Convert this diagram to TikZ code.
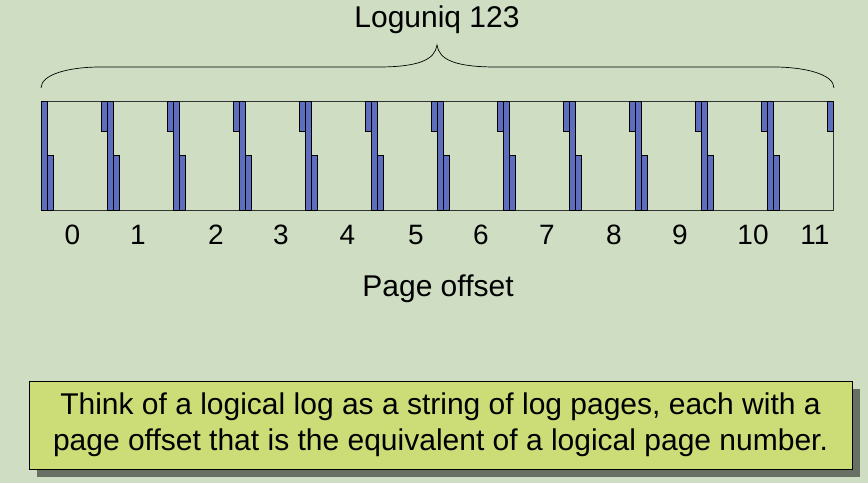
\documentclass[tikz,border=0pt]{standalone}
\usepackage{fontspec}
\setmainfont{Liberation Sans}
\usetikzlibrary{positioning,shadows}
\definecolor{slidebg}{RGB}{207,222,195}
\definecolor{barblue}{RGB}{94,110,190}
\definecolor{notefill}{RGB}{204,221,119}
\definecolor{noteshade}{RGB}{104,112,100}

\begin{document}
\begin{tikzpicture}[
  x=1pt,y=-1pt,
  bar/.style={draw=black,line width=0.7pt,fill=barblue},
  strip/.style={draw=black!80,line width=0.9pt},
  brace/.style={draw=black,line width=0.7pt},
  lbl/.style={font=\fontsize{28}{33}\selectfont,inner sep=0pt},
  title/.style={font=\fontsize{30}{36}\selectfont,inner sep=0pt},
  notebox/.style={draw=black,line width=0.8pt,fill=notefill,align=center,
    minimum width=823pt,minimum height=88pt,inner sep=0pt,
    font=\fontsize{30}{36}\selectfont,
    drop shadow={shadow xshift=8pt,shadow yshift=-8pt,fill=noteshade,opacity=1}}
]

% ---- slide background (fixes the margins) ----
\fill[slidebg] (0,0) rectangle (868,483);

% ---- brace over the log ----
\node[title,anchor=base] (loguniq) at (437,27.7) {Loguniq 123};
\draw[brace] (41,88) .. controls (41,74) and (70,67) .. (100,67) -- (378,67)
  .. controls (418,67) and (435,60) .. (437,45)
  .. controls (439,60) and (456,67) .. (496,67) -- (774,67)
  .. controls (804,67) and (834,74) .. (834,88);

% ---- the string of log pages ----
\draw[strip] (41,101) rectangle (833.4,210.5);
\foreach \k in {0,...,11}{
  \pgfmathsetmacro{\xa}{41+66.03*\k}
  \draw[bar] (\xa,101) rectangle ++(6,109.5);
  \draw[bar] (\xa+6,155.5) rectangle ++(6,55);
}
\foreach \k in {1,...,12}{
  \pgfmathsetmacro{\xa}{41+66.03*\k}
  \draw[bar] (\xa-6,101) rectangle ++(6,30);
}

% page offsets
\foreach \px [count=\i from 0] in {72.5,138,216,281,347.5,416,481,547,614,680,753,815}
  \node[lbl,anchor=base] (off\i) at (\px,244) {\i};
\node[title,anchor=base] (offlbl) at (438,296) {Page offset};

% ---- note ----
\node[notebox] (note) at (440.5,425) {Think of a logical log as a string of log pages, each with a\\ page offset that is the equivalent of a logical page number.};

\end{tikzpicture}
\end{document}
